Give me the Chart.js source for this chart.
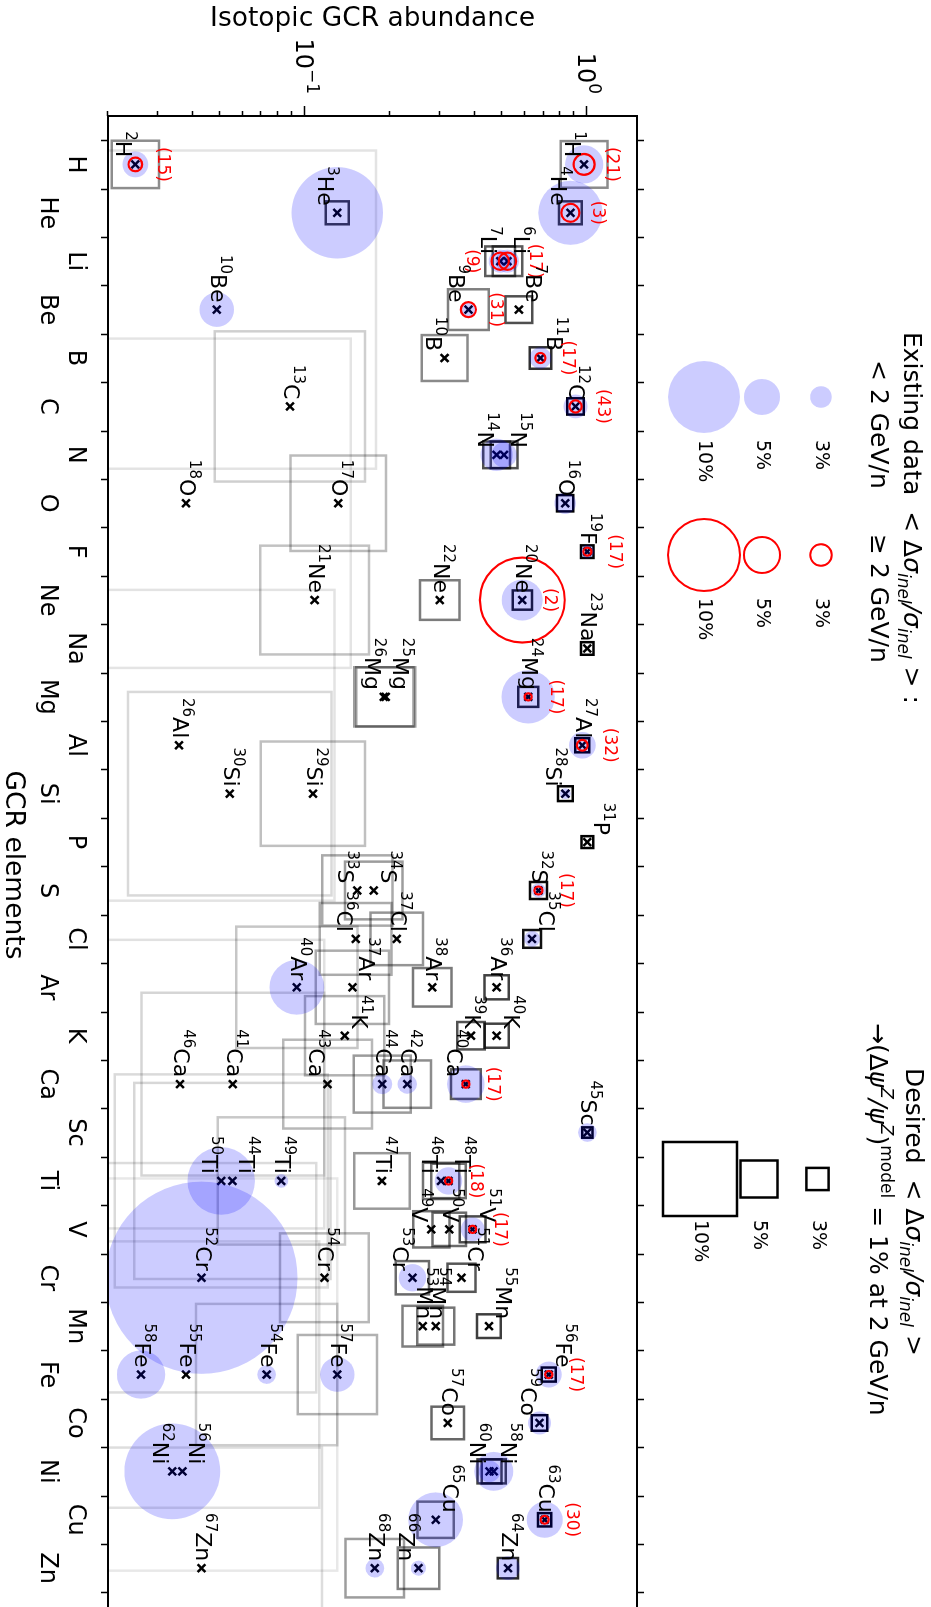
<!DOCTYPE html>
<html>
<head>
<meta charset="utf-8">
<script src="https://cdn.jsdelivr.net/npm/chart.js@4.4.0/dist/chart.umd.min.js"></script>
<style>
  html, body { margin: 0; padding: 0; background: #fff; width: 931px; height: 1607px; overflow: hidden; }
  /* the figure is drawn in landscape and turned a quarter clockwise */
  #wrap { position: absolute; left: 0; top: 0; width: 1665px; height: 931px;
          transform-origin: 0 0; transform: rotate(90deg) translateY(-931px); }
</style>
</head>
<body>
<div id="wrap"><canvas id="gcr" width="1665" height="931"></canvas></div>
<script>
const FONT = '"DejaVu Sans"';

const elements = ['H','He','Li','Be','B','C','N','O','F','Ne','Na','Mg','Al','Si','P','S','Cl','Ar','K','Ca','Sc','Ti','V','Cr','Mn','Fe','Co','Ni','Cu','Zn'];

// one entry per isotope
const isoMass = [1,2, 3,4, 6,7, 7,9,10, 10,11, 12,13, 14,15, 16,17,18, 19, 20,21,22, 23, 24,25,26, 26,27, 28,29,30, 31,
                 32,33,34, 35,36,37, 36,37,38,40, 39,40,41, 40,41,42,43,44,46, 45, 44,46,47,48,49,50, 49,50,51,
                 51,52,53,54, 53,54,55, 54,55,56,57,58, 57,59, 56,58,60,62, 63,65, 64,66,67,68];
const isoElem = ['H','H','He','He','Li','Li','Be','Be','Be','B','B','C','C','N','N','O','O','O','F','Ne','Ne','Ne','Na',
                 'Mg','Mg','Mg','Al','Al','Si','Si','Si','P','S','S','S','Cl','Cl','Cl','Ar','Ar','Ar','Ar','K','K','K',
                 'Ca','Ca','Ca','Ca','Ca','Ca','Sc','Ti','Ti','Ti','Ti','Ti','Ti','V','V','V','Cr','Cr','Cr','Cr',
                 'Mn','Mn','Mn','Fe','Fe','Fe','Fe','Fe','Co','Co','Ni','Ni','Ni','Ni','Cu','Cu','Zn','Zn','Zn','Zn'];
// isotopic fraction in GCR
const abundance = [0.974,0.025, 0.130,0.871, 0.521,0.491, 0.572,0.379,0.0486, 0.312,0.682, 0.908,0.0883, 0.477,0.507,
                   0.835,0.131,0.0378, 1.0, 0.588,0.108,0.30, 1.0, 0.617,0.193,0.190, 0.0357,0.96, 0.836,0.1065,0.054, 1.0,
                   0.671,0.153,0.175, 0.637,0.151,0.211, 0.477,0.147,0.282,0.0934, 0.387,0.477,0.138,
                   0.371,0.0554,0.23,0.120,0.1875,0.036, 1.0, 0.0552,0.303,0.187,0.322,0.0823,0.0504, 0.28,0.324,0.392,
                   0.358,0.0429,0.24,0.117, 0.261,0.29,0.448, 0.073,0.0378,0.73,0.130,0.0262, 0.32,0.677,
                   0.0367,0.466,0.45,0.0338, 0.706,0.29, 0.523,0.252,0.0429,0.1765];
// existing data, <dsigma/sigma> in %, below 2 GeV/n (0 = none)
const errLowE = [5.3,3.6, 12.7,8.9, 3.2,3.2, 0,2.0,4.8, 0,3.0, 3.3,0, 4.5,3.5, 3.0,0,0, 1.9, 5.7,0,0, 0, 7.4,0,0, 0,3.7,
                 1.5,0,0, 0, 2.0,0,0, 2.2,0,0, 0,0,0,7.6, 0,0,0, 5.2,0,2.7,0,2.8,0, 2.6, 0,0,0,3.8,1.9,9.4, 0,0,3.3,
                 0,26.7,3.8,0, 0,0,0, 2.6,0,3.6,4.8,6.7, 0,3.2, 0,5.4,3.0,13.3, 5.0,7.6, 3.3,2.1,0,2.6];
// existing data, <dsigma/sigma> in %, at or above 2 GeV/n
const errHighE = [2.9,1.9, 0,2.5, 2.4,2.4, 0,2.1,0, 0,1.4, 1.7,0, 0,0, 0,0,0, 1.1, 11.8,0,0, 0, 1.0,0,0, 0,1.5,
                  0,0,0, 0, 1.1,0,0, 0,0,0, 0,0,0,0, 0,0,0, 1.0,0,0,0,0,0, 0, 0,0,0,1.0,0,0, 0,0,1.0,
                  0,0,0,0, 0,0,0, 0,0,1.0,0,0, 0,0, 0,0,0,0, 1.1,0, 0,0,0,0];
// desired <dsigma/sigma> in %
const desired = [6.3,6.4, 3.1,3.1, 4.0,4.0, 3.6,5.5,43, 6.2,2.9, 2.2,20.3, 3.6,3.6, 2.2,12.9,44.5, 1.7, 2.6,14.7,5.35, 1.7,
                 2.7,8.0,8.0, 42,1.9, 2.0,14.1,27.5, 1.6, 2.3,9.5,7.8, 2.4,9.7,7.1, 3.25,9.9,5.2,16.4, 3.7,3.25,10.7,
                 4.0,24.7,6.4,12,7.7,39, 1.4, 26.5,4.9,7.5,4.65,17.2,28.8, 4.9,4.5,3.5, 3.8,31,4.5,12, 5.5,5.0,3.2,
                 19.1,36,1.9,10.7,53, 4.4,2.1, 0,3.25,3.25,0, 1.8,4.9, 2.75,5.6,32.6,7.9];
// number of measurements (red)
const nMeas = [21,15, 0,3, 17,9, 0,31,0, 0,17, 43,0, 0,0, 0,0,0, 17, 2,0,0, 0, 17,0,0, 0,32, 0,0,0, 0, 17,0,0,
               0,0,0, 0,0,0,0, 0,0,0, 17,0,0,0,0,0, 0, 0,0,0,18,0,0, 0,0,17, 0,0,0,0, 0,0,0, 0,0,17,0,0, 0,0,
               0,0,0,0, 30,0, 0,0,0,0];
const nBelow = ['7Li'];

// where each isotope name sits against its marker (default: level with it)
const labelsAbove = ['6Li','7Be','11B','15N','25Mg','31P','34S','35Cl','37Ar','40K','41K','44Ti','48Ti','51V','51Cr',
                     '55Mn','56Fe','56Ni','58Ni','65Cu'];
const labelsBelow = ['1H','2H','3He','4He','7Li','9Be','10B','14N','26Mg','28Si','33S','36Cl','40Ca','43Ca','46Ti',
                     '50Ti','49V','53Cr','59Co','60Ni','62Ni','66Zn'];

const legendPct = [3, 5, 10];

// sizes in px per percent
const CIRC_R = 3.6;
const SQ_SIDE = 7.4;

const pts = isoMass.map((m, i) => ({
  x: elements.indexOf(isoElem[i]), y: abundance[i],
  name: m + isoElem[i], lo: errLowE[i], hi: errHighE[i], sq: desired[i], n: nMeas[i]
}));

function drawRich(ctx, x, y, segs, align) {
  let w = 0;
  segs.forEach(s => {
    ctx.font = (s.it ? 'italic ' : '') + s.sz + 'px ' + FONT;
    s.w = ctx.measureText(s.t).width;
    w += s.w;
  });
  let cx = align === 'right' ? x - w : (align === 'center' ? x - w / 2 : x);
  ctx.textAlign = 'left';
  ctx.textBaseline = 'alphabetic';
  segs.forEach(s => {
    ctx.font = (s.it ? 'italic ' : '') + s.sz + 'px ' + FONT;
    ctx.fillStyle = s.c || '#000';
    ctx.fillText(s.t, cx, y + (s.dy || 0));
    cx += s.w;
  });
}

function seg(t, sz, it, dy) { return {t: t, sz: sz, it: !!it, dy: dy || 0}; }

const decor = {
  id: 'decor',
  afterDatasetsDraw(chart) {
    const ctx = chart.ctx, a = chart.chartArea;
    const xs = chart.scales.x, ys = chart.scales.y;
    ctx.save();

    // isotope names and measurement counts
    pts.forEach(p => {
      const px = xs.getPixelForValue(p.x), py = ys.getPixelForValue(p.y);
      const m = p.name.match(/^(\d+)(\D+)$/);
      let base = py + 6;
      if (labelsAbove.includes(p.name)) base = py - 7;
      if (labelsBelow.includes(p.name)) base = py + 19;
      drawRich(ctx, px - 7, base, [seg(m[1], 15, false, -10), seg(m[2], 22)], 'right');
      if (p.n) {
        ctx.font = '17px ' + FONT;
        ctx.fillStyle = '#ff0000';
        ctx.textAlign = 'center';
        ctx.textBaseline = 'middle';
        const dy = nBelow.includes(p.name) ? 29 : -27;
        ctx.fillText('(' + p.n + ')', px, py + dy);
      }
    });

    // frame
    ctx.strokeStyle = '#000';
    ctx.lineWidth = 2;
    ctx.strokeRect(a.left, a.top, a.right - a.left, a.bottom - a.top);

    // tick marks
    ctx.lineWidth = 1.5;
    ctx.beginPath();
    for (let v = -0.5; v <= 31; v += 1) {
      const px = Math.round(xs.getPixelForValue(v)) + 0.5;
      ctx.moveTo(px, a.bottom); ctx.lineTo(px, a.bottom + 7);
      ctx.moveTo(px, a.top); ctx.lineTo(px, a.top - 7);
    }
    [0.01, 0.1, 1].forEach(dec => {
      for (let k = 1; k <= 9; k++) {
        const v = dec * k;
        if (v < ys.min - 1e-9 || v > ys.max) continue;
        const py = Math.round(ys.getPixelForValue(v)) + 0.5;
        ctx.moveTo(a.left, py); ctx.lineTo(a.left - (k === 1 ? 10 : 5), py);
      }
    });
    ctx.stroke();

    // tick labels
    ctx.fillStyle = '#000';
    ctx.font = '24px ' + FONT;
    ctx.textAlign = 'center';
    ctx.textBaseline = 'middle';
    elements.forEach((e, i) => {
      ctx.fillText(e, xs.getPixelForValue(i), a.bottom + (i % 2 ? 61 : 33));
    });
    drawRich(ctx, a.left - 22, ys.getPixelForValue(0.1) + 9, [seg('10', 24), seg('\u22121', 17, false, -11)], 'right');
    drawRich(ctx, a.left - 22, ys.getPixelForValue(1) + 9, [seg('10', 24), seg('0', 17, false, -11)], 'right');

    // axis titles
    ctx.font = '26.5px ' + FONT;
    ctx.textAlign = 'center';
    ctx.textBaseline = 'middle';
    ctx.fillText('GCR elements', 865, 918);
    ctx.save();
    ctx.translate(19, (a.top + a.bottom) / 2);
    ctx.rotate(-Math.PI / 2);
    ctx.fillText('Isotopic GCR abundance', 0, 0);
    ctx.restore();

    // legend: existing data
    const sub = (t) => seg(t, 17, true, 6);
    drawRich(ctx, 332, 27, [seg('Existing data  < \u0394', 25), seg('\u03c3', 25, true), sub('inel'),
      seg('/', 25, true), seg('\u03c3', 25, true), sub('inel'), seg(' > :', 25)], 'left');
    drawRich(ctx, 360, 60, [seg('< 2 GeV/n', 25)], 'left');
    drawRich(ctx, 534, 60, [seg('\u2265 2 GeV/n', 25)], 'left');
    const rowY = [110, 169, 227];
    legendPct.forEach((pc, k) => {
      ctx.beginPath();
      ctx.arc(397, rowY[k], pc * CIRC_R, 0, 2 * Math.PI);
      ctx.fillStyle = 'rgba(0,0,255,0.2)';
      ctx.fill();
      ctx.beginPath();
      ctx.arc(555, rowY[k], pc * CIRC_R, 0, 2 * Math.PI);
      ctx.strokeStyle = '#ff0000';
      ctx.lineWidth = 2;
      ctx.stroke();
      const sqY = [113.5, 172, 231][k], s = pc * SQ_SIDE;
      ctx.strokeStyle = '#000';
      ctx.lineWidth = 2.5;
      ctx.strokeRect(1179 - s / 2, sqY - s / 2, s, s);
      ctx.fillStyle = '#000';
      ctx.font = '19px ' + FONT;
      ctx.textAlign = 'left';
      ctx.textBaseline = 'middle';
      ctx.fillText(pc + '%', 440, rowY[k]);
      ctx.fillText(pc + '%', 598, rowY[k]);
      ctx.fillText(pc + '%', 1220, sqY);
    });

    // legend: desired
    drawRich(ctx, 1068, 25, [seg('Desired  < \u0394', 25), seg('\u03c3', 25, true), sub('inel'),
      seg('/', 25, true), seg('\u03c3', 25, true), sub('inel'), seg(' >', 25)], 'left');
    drawRich(ctx, 1023, 61, [seg('\u2192(\u0394', 25), seg('\u03c8', 25, true), seg('Z', 17, true, -11),
      seg('/', 25, true), seg('\u03c8', 25, true), seg('Z', 17, true, -11), seg(')', 25),
      seg('model', 17, false, -11), seg(' = 1% at 2 GeV/n', 25)], 'left');

    ctx.restore();
  }
};

new Chart(document.getElementById('gcr'), {
  type: 'scatter',
  data: {
    datasets: [
      { // desired precision, fainter when larger
        data: pts.filter(p => p.sq > 0), order: 4, pointStyle: 'rect',
        pointRadius: c => c.raw.sq * SQ_SIDE / Math.SQRT2,
        borderColor: c => 'rgba(0,0,0,' + Math.min(1, Math.pow(2.2 / c.raw.sq, 0.75)).toFixed(3) + ')',
        backgroundColor: 'rgba(0,0,0,0)', borderWidth: 2.5
      },
      { // isotope positions
        data: pts, order: 3, pointStyle: 'crossRot', pointRadius: 5.5,
        borderColor: '#000', borderWidth: 2.5
      },
      { // existing data < 2 GeV/n
        data: pts.filter(p => p.lo > 0), order: 2, pointStyle: 'circle',
        pointRadius: c => c.raw.lo * CIRC_R, backgroundColor: 'rgba(0,0,255,0.2)', borderWidth: 0
      },
      { // existing data >= 2 GeV/n
        data: pts.filter(p => p.hi > 0), order: 1, pointStyle: 'circle',
        pointRadius: c => c.raw.hi * CIRC_R, backgroundColor: 'rgba(0,0,0,0)',
        borderColor: '#ff0000', borderWidth: 2.2
      }
    ]
  },
  options: {
    responsive: false,
    animation: false,
    events: [],
    layout: { autoPadding: false, padding: { top: 294, left: 0, right: 0, bottom: 0 } },
    plugins: { legend: { display: false }, tooltip: { enabled: false } },
    scales: {
      x: { type: 'linear', min: -1, max: 31, afterFit: s => { s.height = 108; },
           grid: { display: false }, border: { display: false }, ticks: { display: false } },
      y: { type: 'logarithmic', min: 0.02, max: 1.5, afterFit: s => { s.width = 116; },
           grid: { display: false }, border: { display: false }, ticks: { display: false } }
    }
  },
  plugins: [decor]
});
</script>
</body>
</html>
